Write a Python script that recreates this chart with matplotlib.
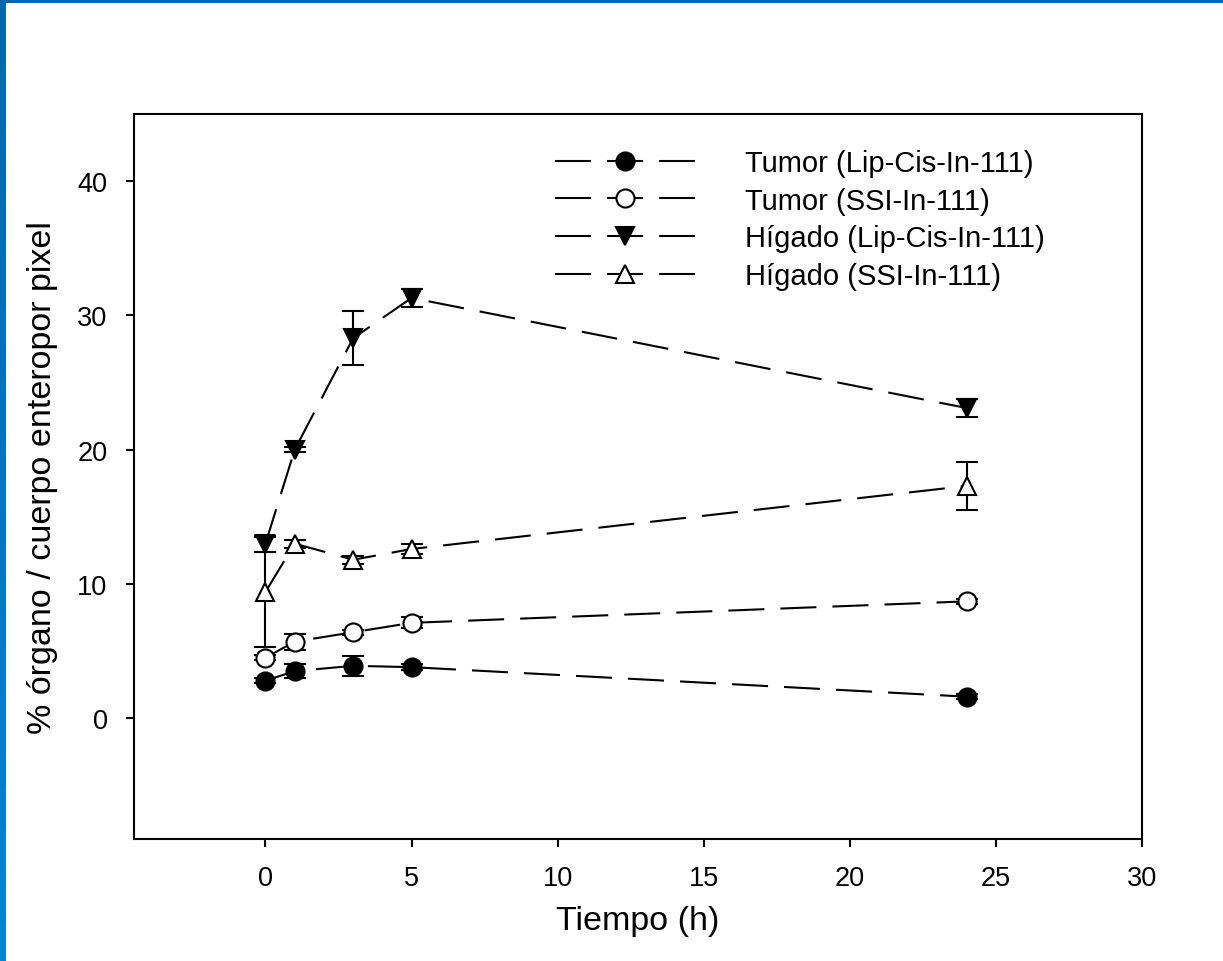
import matplotlib
matplotlib.use("Agg")
import matplotlib.pyplot as plt
from matplotlib.colors import LinearSegmentedColormap
import numpy as np

plt.rcParams['font.family'] = ['Liberation Sans', 'DejaVu Sans']

# datos
tiempo = [0, 1, 3, 5, 24]

tumor_lip = [2.8, 3.5, 3.9, 3.8, 1.6]
tumor_lip_err = [0.2, 0.5, 0.75, 0.2, 0.2]

tumor_ssi = [4.5, 5.7, 6.4, 7.1, 8.7]
tumor_ssi_err = [0.2, 0.6, 0.2, 0.4, 0.2]

higado_lip = [13.0, 20.0, 28.3, 31.3, 23.1]
higado_lip_err = [0.6, 0.2, 2.0, 0.7, 0.7]

higado_ssi = [9.4, 13.0, 11.8, 12.6, 17.3]
higado_ssi_err = [4.1, 0.3, 0.3, 0.4, 1.8]

etiquetas = ["Tumor (Lip-Cis-In-111)", "Tumor (SSI-In-111)",
             "Hígado (Lip-Cis-In-111)", "Hígado (SSI-In-111)"]

xticks = [0, 5, 10, 15, 20, 25, 30]
yticks = [0, 10, 20, 30, 40]

W, H = 1223, 962
fig = plt.figure(figsize=(W / 100, H / 100), dpi=100)

# marco azul (izquierda con degradado, arriba)
ax_bar = fig.add_axes([0, 0, 6 / W, 1])
grad = np.linspace(0, 1, 256).reshape(-1, 1)
cmap = LinearSegmentedColormap.from_list("b", ["#0084dc", "#0068b0"])
ax_bar.imshow(grad, aspect="auto", cmap=cmap, origin="lower")
ax_bar.axis("off")
ax_top = fig.add_axes([0, 1 - 4 / H, 1, 4 / H])
ax_top.set_facecolor("#0068b0")
ax_top.set_xticks([])
ax_top.set_yticks([])
for s in ax_top.spines.values():
    s.set_visible(False)

ax = fig.add_axes([134 / W, 1 - 840 / H, (1142 - 134) / W, (840 - 115) / H])

series = [
    (tumor_lip, tumor_lip_err, "o", "black"),
    (tumor_ssi, tumor_ssi_err, "o", "white"),
    (higado_lip, higado_lip_err, "v", "black"),
    (higado_ssi, higado_ssi_err, "^", "white"),
]

dash = (0, (17.3, 7.7))
for (vals, errs, mk, fc), lab in zip(series, etiquetas):
    ax.errorbar(tiempo, vals, yerr=errs, fmt="none", ecolor="black",
                elinewidth=1.5, capsize=8, capthick=1.5, zorder=2)
    ax.plot(tiempo, vals, linestyle=dash, color="black", linewidth=1.5,
            marker=mk, markersize=13, markerfacecolor=fc,
            markeredgecolor="black", markeredgewidth=1.5, label=lab, zorder=3)

ax.set_xlim(-4.5, 30)
ax.set_ylim(-9, 45)
ax.set_xticks(xticks)
ax.set_yticks(yticks)
ax.tick_params(axis="both", direction="out", length=6, width=1.5,
               labelsize=19.5, top=False, right=False, pad=13)
for s in ax.spines.values():
    s.set_linewidth(1.5)

ax.set_xlabel("Tiempo (h)", fontsize=24.5, labelpad=10)
ax.set_ylabel("% órgano / cuerpo enteropor pixel", fontsize=24.5, labelpad=14)

leg = ax.legend(loc="upper left",
                bbox_to_anchor=((555 - 134) / (1142 - 134), 1 - (150 - 115) / (840 - 115)),
                frameon=False, fontsize=21, handlelength=4.8, handletextpad=1.7,
                labelspacing=0.33, numpoints=1, borderpad=0, borderaxespad=0)

fig.savefig("out.png", dpi=100)
